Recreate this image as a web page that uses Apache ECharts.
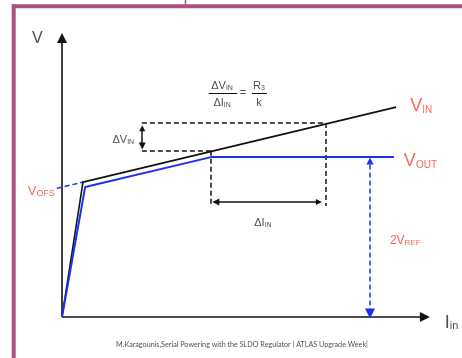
<!DOCTYPE html>
<html><head><meta charset="utf-8">
<script src="https://cdn.jsdelivr.net/npm/echarts@6/dist/echarts.min.js"></script>
<style>html,body{margin:0;padding:0;background:#fff}#c{width:462px;height:358px}</style>
</head><body><div id="c"></div>
<script>
// ---- data (abstract units: current 0..100, voltage 0..100) ----
const vinCurve = [[0, 0], [5.7, 47.5], [90.8, 73.9]];
const voutCurve = [[0, 0], [6.3, 45.8], [40.5, 56.3], [90.2, 56.3]];
const vofsExtension = [[-1.4, 45.3], [5.7, 47.5]];
const axesLines = [[[0, 0], [98.6, 0]], [[0, 0], [0, 98.2]]];
const guideLines = [
  [[21.7, 68.3], [71.7, 68.3]],
  [[21.7, 58.5], [40.5, 58.5]],
  [[40.5, 58.5], [40.5, 39.4]],
  [[71.7, 68.3], [71.7, 39.1]]
];
const deltaVinArrow = [[21.8, 60.2], [21.8, 66.5]];
const deltaIinArrow = [[41.8, 40.5], [69.8, 40.5]];
const vrefArrow = [[83.7, 1.2], [83.7, 54.9]];
const fractionBars = [[[39.9, 78.9], [47.6, 78.9]], [[51.6, 78.9], [55.7, 78.9]]];
// annotation anchors: [x, y, main, sub]
const labelV = [-6.7, 98.4, 'V'];
const labelIin = [104.0, -1.6, 'I', 'in'];
const labelVin = [94.6, 74.6, 'V', 'IN'];
const labelVout = [92.9, 55.3, 'V', 'OUT'];
const labelVofs = [-1.9, 44.7, 'V', 'OFS'];
const label2Vref = [89.1, 27.1, '2V', 'REF'];
const labelDVin = [19.6, 62.7, 'ΔV', 'IN'];
const labelDIin = [54.6, 33.5, 'ΔI', 'IN'];
const formulaNum = [43.5, 81.7, 'ΔV', 'IN'];
const formulaDen = [43.5, 75.7, 'ΔI', 'IN'];
const formulaEq = [49.2, 79.2, '='];
const formulaR = [53.5, 81.7, 'R', '3'];
const formulaK = [53.5, 75.7, 'k'];
const caption = [48.9, -9.9, 'M.Karagounis,Serial Powering with the SLDO Regulator | ATLAS Upgrade Week|'];

const RED = '#f0442a', BLUE = '#1f2ff0', BLACK = '#111', TEXT = '#222', FRAME = '#a9527f';
const FONT = '"Liberation Sans", Arial, sans-serif';

function subLabel(item, fb, fs, color, align) {
  const lhB = fb + 2;
  const lhS = lhB - 0.7 * (fb - fs);
  const text = item[3] ? `{m|${item[2]}}{s|${item[3]}}` : `{m|${item[2]}}`;
  return {
    value: [item[0], item[1]],
    label: {
      show: true, position: 'inside', align: align, verticalAlign: 'middle',
      formatter: text,
      rich: {
        m: {fontSize: fb, lineHeight: lhB, verticalAlign: 'bottom', color: color, fontFamily: FONT},
        s: {fontSize: fs, lineHeight: lhS, verticalAlign: 'bottom', color: color, fontFamily: FONT}
      }
    }
  };
}

function linesSeries(list, style, symbol, symbolSize, z) {
  return {
    type: 'lines', coordinateSystem: 'cartesian2d', clip: false, silent: true,
    symbol: symbol || ['none', 'none'], symbolSize: symbolSize || 8,
    lineStyle: style, z: z || 3,
    data: list.map(c => ({coords: c}))
  };
}

const chart = echarts.init(document.getElementById('c'), null, {renderer: 'canvas'});
chart.setOption({
  animation: false,
  backgroundColor: '#fff',
  grid: {left: 62, top: 33, width: 368, height: 284},
  xAxis: {type: 'value', min: 0, max: 100, show: false},
  yAxis: {type: 'value', min: 0, max: 100, show: false},
  graphic: [
    {type: 'line', shape: {x1: 12, y1: 6.3, x2: 462, y2: 6.3}, style: {stroke: FRAME, lineWidth: 4}},
    {type: 'line', shape: {x1: 13.7, y1: 4.3, x2: 13.7, y2: 358}, style: {stroke: FRAME, lineWidth: 4}},
    {type: 'line', shape: {x1: 185.5, y1: 0, x2: 185.5, y2: 5}, style: {stroke: FRAME, lineWidth: 1.5}}
  ],
  series: [
    linesSeries(axesLines, {color: BLACK, width: 1.6, opacity: 1}, ['none', 'triangle'], [9, 10]),
    linesSeries(guideLines, {color: BLACK, width: 1.5, type: [5, 3], opacity: 1}),
    linesSeries([vofsExtension], {color: BLUE, width: 1.5, type: [5, 3], opacity: 1}),
    linesSeries([deltaVinArrow, deltaIinArrow], {color: BLACK, width: 1.5, opacity: 1}, ['triangle', 'triangle'], [7, 6]),
    linesSeries([vrefArrow], {color: BLUE, width: 1.5, type: [5, 3], opacity: 1}, ['triangle', 'triangle'], [10, 7], 5),
    linesSeries(fractionBars, {color: BLACK, width: 1, opacity: 1}),
    {type: 'line', data: vinCurve, symbol: 'none', clip: false, lineStyle: {color: BLACK, width: 1.6}, z: 4},
    {type: 'line', data: voutCurve, symbol: 'none', clip: false, lineStyle: {color: BLUE, width: 2}, z: 4},
    {
      type: 'scatter', symbolSize: 0, clip: false, silent: true, z: 6,
      data: [
        subLabel(labelV, 16, 10, TEXT, 'center'),
        subLabel(labelIin, 18, 11, TEXT, 'left'),
        subLabel(labelVin, 18, 10, RED, 'left'),
        subLabel(labelVout, 18, 10, RED, 'left'),
        subLabel(labelVofs, 13, 9, RED, 'right'),
        subLabel(label2Vref, 12, 8, RED, 'left'),
        subLabel(labelDVin, 11, 7, TEXT, 'right'),
        subLabel(labelDIin, 11, 7, TEXT, 'center'),
        subLabel(formulaNum, 11, 7, TEXT, 'center'),
        subLabel(formulaDen, 11, 7, TEXT, 'center'),
        subLabel(formulaEq, 11, 7, TEXT, 'center'),
        subLabel(formulaR, 11, 7, TEXT, 'center'),
        subLabel(formulaK, 11, 7, TEXT, 'center'),
        {
          value: [caption[0], caption[1]],
          label: {show: true, position: 'inside', align: 'center', verticalAlign: 'middle',
            formatter: caption[2], fontSize: 7.2, color: '#222', fontFamily: 'Lato, "Open Sans", sans-serif'}
        }
      ]
    }
  ]
});
</script>
</body></html>
